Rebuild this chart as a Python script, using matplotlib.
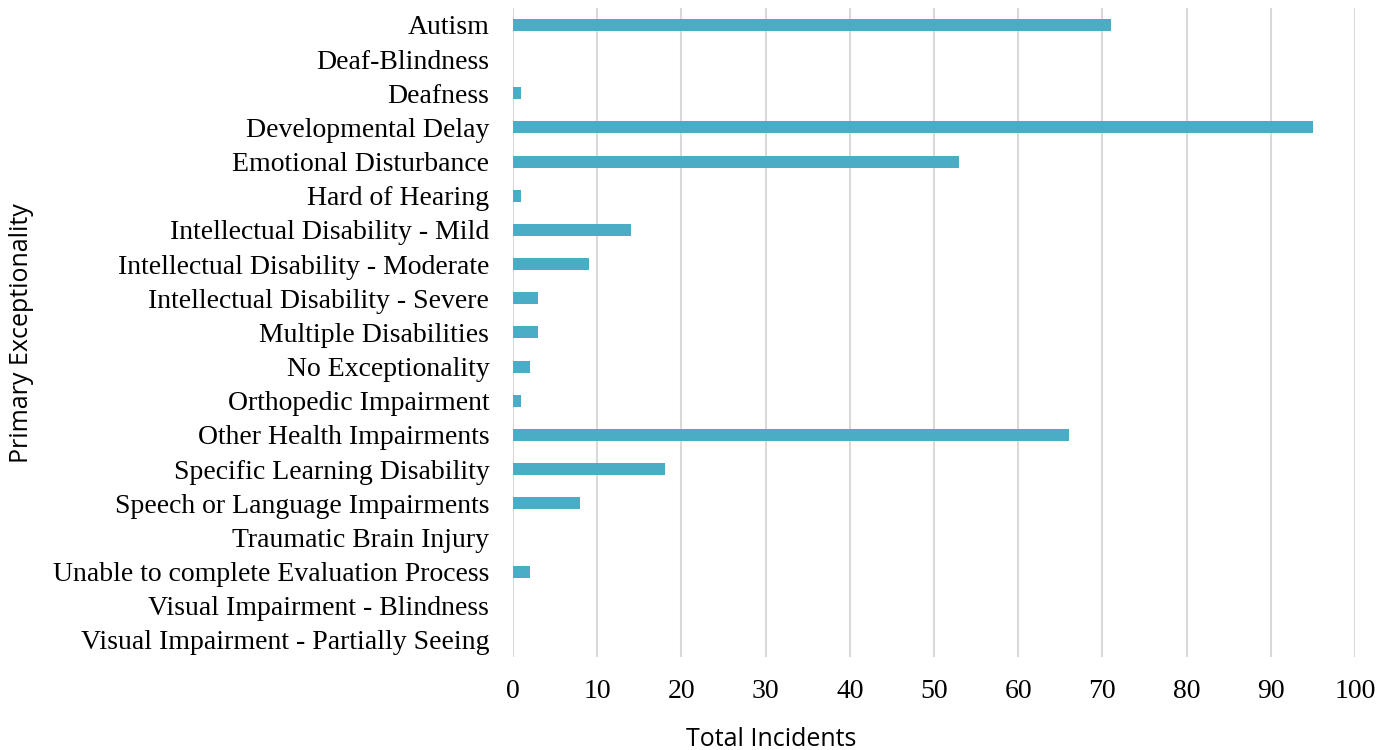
import matplotlib
matplotlib.use("Agg")
import matplotlib.pyplot as plt

categories = [
    "Autism", "Deaf-Blindness", "Deafness", "Developmental Delay",
    "Emotional Disturbance", "Hard of Hearing", "Intellectual Disability - Mild",
    "Intellectual Disability - Moderate", "Intellectual Disability - Severe",
    "Multiple Disabilities", "No Exceptionality", "Orthopedic Impairment",
    "Other Health Impairments", "Specific Learning Disability",
    "Speech or Language Impairments", "Traumatic Brain Injury",
    "Unable to complete Evaluation Process", "Visual Impairment - Blindness",
    "Visual Impairment - Partially Seeing",
]
values = [71, 0, 1, 95, 53, 1, 14, 9, 3, 3, 2, 1, 66, 18, 8, 0, 2, 0, 0]
xticks = [0, 10, 20, 30, 40, 50, 60, 70, 80, 90, 100]

fig = plt.figure(figsize=(13.92, 7.5), dpi=100)
ax = fig.add_axes([0.3685, 0.124, 0.6049, 0.8656])

pos = list(range(len(categories)))
ax.barh(pos, values, height=0.35, color="#4BACC6", zorder=3)
ax.set_ylim(len(categories) - 0.5, -0.5)
ax.set_xlim(0, 100)
ax.set_xticks(xticks)
ax.set_yticks(pos)
ax.set_yticklabels(categories, fontfamily="Liberation Serif", fontsize=20)
ax.set_xticklabels([str(t) for t in xticks], fontfamily="Liberation Serif", fontsize=20)
ax.tick_params(axis="both", length=0)
ax.tick_params(axis="y", pad=17)
ax.tick_params(axis="x", pad=16)
ax.grid(axis="x", color="#d9d9d9", linewidth=1.5, zorder=0)
for s in ax.spines.values():
    s.set_visible(False)
fig.text(771 / 1392, 1 - 739 / 750, "Total Incidents", fontfamily="Open Sans",
         fontsize=18, ha="center", va="center")
fig.text(22 / 1392, 1 - 333 / 750, "Primary Exceptionality", fontfamily="Open Sans",
         fontsize=18, ha="center", va="center", rotation=90)

fig.savefig("out.png", dpi=100)
